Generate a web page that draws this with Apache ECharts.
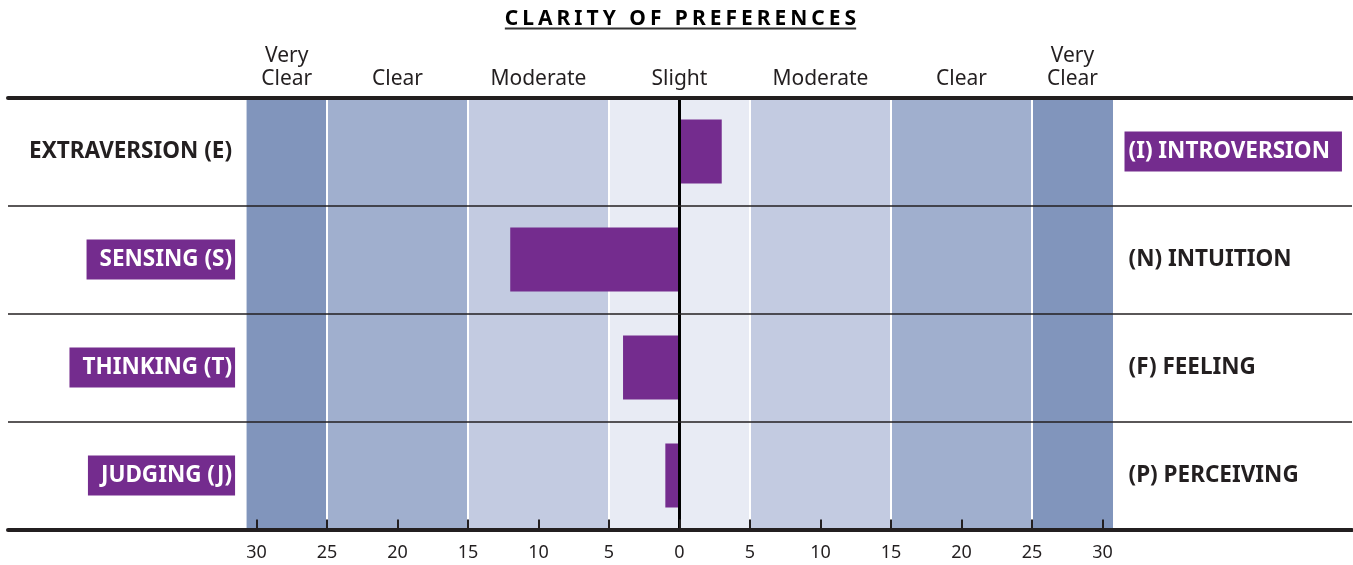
<!DOCTYPE html>
<html>
<head>
<meta charset="utf-8">
<script src="https://cdn.jsdelivr.net/npm/echarts@6/dist/echarts.min.js"></script>
<style>
html,body{margin:0;padding:0;background:#ffffff;}
#chart{width:1353px;height:565px;}
</style>
</head>
<body>
<div id="chart"></div>
<script>
// ---------- data ----------
const chartTitle = 'CLARITY OF PREFERENCES';
const leftLabels = ['EXTRAVERSION (E)', 'SENSING (S)', 'THINKING (T)', 'JUDGING (J)'];
const rightLabels = ['(I) INTROVERSION', '(N) INTUITION', '(F) FEELING', '(P) PERCEIVING'];
const scores = [3, -12, -4, -1];            // negative = left preference, positive = right
const tickValues = [-30, -25, -20, -15, -10, -5, 0, 5, 10, 15, 20, 25, 30];
const bandLabels = ['Very\nClear', 'Clear', 'Moderate', 'Slight', 'Moderate', 'Clear', 'Very\nClear'];
const bandEdges = [-30.7, -25, -15, -5, 5, 15, 25, 30.75];
const bandDividers = [-25, -15, -5, 5, 15, 25];

// ---------- styles ----------
const FONT = '"Noto Sans", "Open Sans", sans-serif';
const INK = '#231F20';
const PURPLE = '#742C8E';
const bandColors = ['#8195BC', '#A0AFCE', '#C3CBE1', '#E8EBF4', '#C3CBE1', '#A0AFCE', '#8195BC'];
const TITLE_SIZE = 21, TITLE_PAD = 2, TITLE_CX = 680.5;

const chart = echarts.init(document.getElementById('chart'), null, {renderer: 'canvas'});

// title as rich tokens (letter spacing)
const titleRich = chartTitle.split('').map(ch => '{a|' + ch + '}').join('');
const mctx = document.createElement('canvas').getContext('2d');
mctx.font = 'bold ' + TITLE_SIZE + 'px ' + FONT;
let titleW = 0;
chartTitle.split('').forEach(ch => { titleW += mctx.measureText(ch).width + 2 * TITLE_PAD; });
const ulHalf = titleW / 2 - TITLE_PAD;

const labelRich = (side) => {
  const pad = side === 'left' ? [8.5, 3, 8.5, 13] : [8.5, 12, 8.5, 4];
  const base = {fontFamily: FONT, fontSize: 22.5, fontWeight: 'bold', padding: pad, lineHeight: 22};
  return {
    hl: Object.assign({}, base, {color: '#ffffff', backgroundColor: PURPLE}),
    n: Object.assign({}, base, {color: INK})
  };
};

const option = {
  animation: false,
  backgroundColor: '#ffffff',
  graphic: [{
    type: 'text', silent: true, x: TITLE_CX, y: 8,
    style: {
      text: titleRich, align: 'center', verticalAlign: 'top',
      rich: {a: {fontFamily: FONT, fontSize: TITLE_SIZE, fontWeight: 'bold', color: '#2b2b2b', padding: [0, TITLE_PAD, 0, TITLE_PAD], lineHeight: 22}}
    }
  }, {
    type: 'line', silent: true,
    shape: {x1: TITLE_CX - ulHalf, y1: 28.5, x2: TITLE_CX + ulHalf, y2: 28.5},
    style: {stroke: '#333333', lineWidth: 2}
  }],
  grid: {left: 8, right: 1, top: 97.5, bottom: 35.5, containLabel: false},
  xAxis: [{
    type: 'value', position: 'bottom', min: -47.62, max: 47.70, z: 10,
    axisLine: {show: true, onZero: false, lineStyle: {color: INK, width: 4}},
    axisTick: {show: true, inside: true, length: 10, customValues: tickValues, lineStyle: {color: INK, width: 2}},
    axisLabel: {show: true, customValues: tickValues, formatter: v => String(Math.abs(v)),
      fontFamily: FONT, fontSize: 18, color: INK, margin: 14},
    splitLine: {show: false}
  }, {
    type: 'value', position: 'top', min: -47.62, max: 47.70, z: 10,
    axisLine: {show: true, onZero: false, lineStyle: {color: INK, width: 4}},
    axisTick: {show: false}, axisLabel: {show: false}, splitLine: {show: false}
  }],
  yAxis: {
    type: 'category', data: leftLabels, inverse: true, z: 10,
    axisLine: {show: false}, axisTick: {show: false}, axisLabel: {show: false},
    splitLine: {show: true, lineStyle: {color: INK, width: 1.5}}
  },
  series: [
    {
      name: 'bands', type: 'scatter', data: [], z: 1, silent: true,
      markArea: {
        silent: true, z: 1,
        data: bandLabels.map((lab, i) => [
          {xAxis: bandEdges[i], name: lab, itemStyle: {color: bandColors[i], opacity: 1}},
          {xAxis: bandEdges[i + 1]}
        ]),
        label: {show: true, position: 'top', distance: 7, color: INK, fontFamily: FONT, fontSize: 21, lineHeight: 23, align: 'center'}
      }
    },
    {
      name: 'dividers', type: 'scatter', data: [], z: 2, silent: true,
      markLine: {
        silent: true, z: 2, symbol: ['none', 'none'], label: {show: false},
        lineStyle: {color: '#ffffff', width: 2, type: 'solid'},
        data: bandDividers.map(v => ({xAxis: v}))
      }
    },
    {
      name: 'score', type: 'bar', data: scores, barWidth: 64, z: 3, silent: true,
      itemStyle: {color: PURPLE}
    },
    {
      name: 'zero', type: 'scatter', data: [], z: 4, silent: true,
      markLine: {
        silent: true, z: 6, symbol: ['none', 'none'], label: {show: false},
        lineStyle: {color: '#000000', width: 3, type: 'solid'},
        data: [{xAxis: 0}]
      }
    },
    {
      name: 'leftLabels', type: 'scatter', z: 5, silent: true, symbolSize: 1,
      itemStyle: {color: 'rgba(0,0,0,0)', opacity: 1},
      data: leftLabels.map((t, i) => ({value: [bandEdges[0], i], name: t})),
      label: {
        show: true, position: 'left', distance: 11, opacity: 1,
        formatter: p => (scores[p.dataIndex] < 0 ? '{hl|' : '{n|') + p.name + '}',
        rich: labelRich('left')
      }
    },
    {
      name: 'rightLabels', type: 'scatter', z: 5, silent: true, symbolSize: 1,
      itemStyle: {color: 'rgba(0,0,0,0)', opacity: 1},
      data: rightLabels.map((t, i) => ({value: [bandEdges[bandEdges.length - 1], i], name: t})),
      label: {
        show: true, position: 'right', distance: 11, opacity: 1,
        formatter: p => (scores[p.dataIndex] > 0 ? '{hl|' : '{n|') + p.name + '}',
        rich: labelRich('right')
      }
    }
  ]
};
chart.setOption(option);
</script>
</body>
</html>
